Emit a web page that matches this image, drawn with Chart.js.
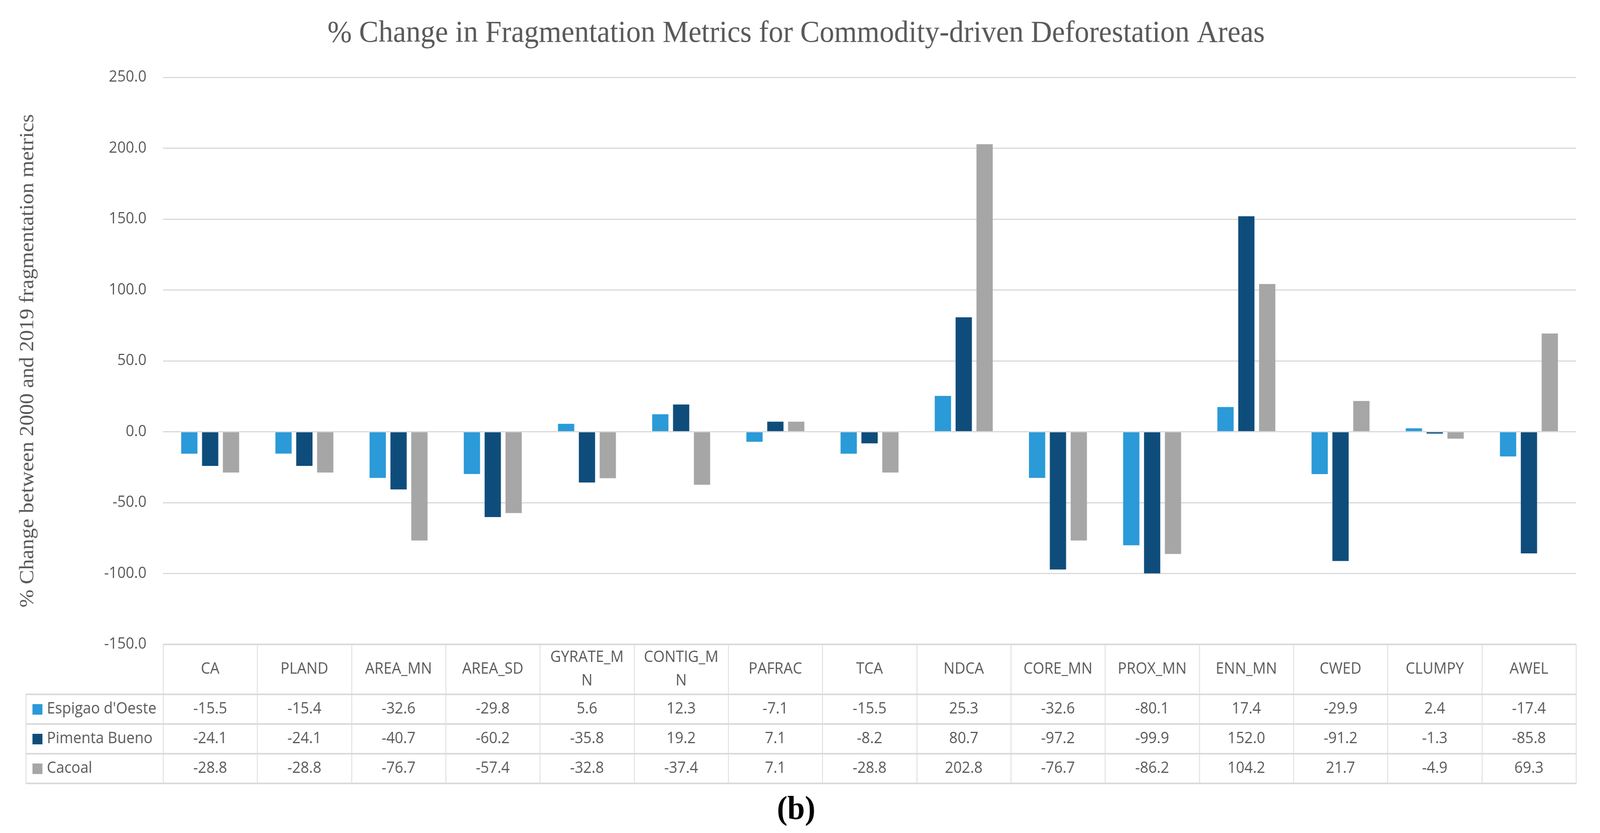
<!DOCTYPE html>
<html>
<head>
<meta charset="utf-8">
<script src="https://cdn.jsdelivr.net/npm/chart.js@4.4.1/dist/chart.umd.min.js"></script>
<style>
  html, body { margin: 0; padding: 0; background: #ffffff; overflow: hidden; }
  canvas#c { display: block; width: 100vw !important; height: 100vh !important; }
</style>
</head>
<body>
<canvas id="c" width="4337" height="2133"></canvas>
<script>
// ---- data ----
const categories = ['CA','PLAND','AREA_MN','AREA_SD','GYRATE_MN','CONTIG_MN','PAFRAC','TCA','NDCA','CORE_MN','PROX_MN','ENN_MN','CWED','CLUMPY','AWEL'];
const headerLabels = [['CA'],['PLAND'],['AREA_MN'],['AREA_SD'],['GYRATE_M','N'],['CONTIG_M','N'],['PAFRAC'],['TCA'],['NDCA'],['CORE_MN'],['PROX_MN'],['ENN_MN'],['CWED'],['CLUMPY'],['AWEL']];
const seriesNames = ["Espigao d'Oeste", 'Pimenta Bueno', 'Cacoal'];
const espigao = [-15.5, -15.4, -32.6, -29.8, 5.6, 12.3, -7.1, -15.5, 25.3, -32.6, -80.1, 17.4, -29.9, 2.4, -17.4];
const pimenta = [-24.1, -24.1, -40.7, -60.2, -35.8, 19.2, 7.1, -8.2, 80.7, -97.2, -99.9, 152.0, -91.2, -1.3, -85.8];
const cacoal  = [-28.8, -28.8, -76.7, -57.4, -32.8, -37.4, 7.1, -28.8, 202.8, -76.7, -86.2, 104.2, 21.7, -4.9, 69.3];
const yMin = -150, yMax = 250, yStep = 50;
const titleText = '% Change in Fragmentation Metrics for Commodity-driven Deforestation Areas';
const yTitleText = '% Change between 2000 and 2019 fragmentation metrics';
const captionText = '(b)';

// ---- styles ----
const colors = ['#2B9AD8', '#0E4D7B', '#A6A6A6'];
const gridColor = '#D9D9D9';
const textColor = '#595959';
const sansFont = "'Open Sans', 'Noto Sans', sans-serif";
const serifFont = "'Liberation Serif', 'DejaVu Serif', serif";

const seriesValues = [espigao, pimenta, cacoal];

const bgPlugin = {
  id: 'bg',
  beforeDraw(chart) {
    const ctx = chart.ctx;
    ctx.save();
    ctx.fillStyle = '#ffffff';
    ctx.fillRect(0, 0, chart.width, chart.height);
    ctx.restore();
  }
};

const tablePlugin = {
  id: 'dataTable',
  afterDraw(chart) {
    const ctx = chart.ctx;
    const area = chart.chartArea;
    const xs = chart.scales.x;
    const n = categories.length;
    const colW = (area.right - area.left) / n;
    const top = area.bottom;
    const headerH = 128;
    const rowH = 76;
    const legendLeft = 70;
    const hdrBottom = top + headerH;
    const bottom = hdrBottom + rowH * seriesNames.length;

    ctx.save();
    // chart title
    ctx.fillStyle = textColor;
    ctx.font = '79px ' + serifFont;
    ctx.textAlign = 'center';
    ctx.textBaseline = 'alphabetic';
    ctx.fillText(titleText, 2158, 107);

    // table vertical lines
    ctx.strokeStyle = gridColor;
    ctx.lineWidth = 2;
    for (let i = 0; i <= n; i++) {
      const x = Math.round(area.left + i * colW) + 0.5;
      ctx.beginPath();
      ctx.moveTo(x, top);
      ctx.lineTo(x, bottom);
      ctx.stroke();
    }
    ctx.beginPath();
    ctx.moveTo(legendLeft + 0.5, hdrBottom);
    ctx.lineTo(legendLeft + 0.5, bottom);
    ctx.stroke();

    // table horizontal lines
    ctx.lineWidth = 4;
    ctx.beginPath();
    ctx.moveTo(area.left, top);
    ctx.lineTo(area.right, top);
    ctx.stroke();
    for (let r = 0; r <= seriesNames.length; r++) {
      const y = hdrBottom + r * rowH;
      ctx.beginPath();
      ctx.moveTo(legendLeft, y);
      ctx.lineTo(area.right, y);
      ctx.stroke();
    }

    // header (category) labels
    ctx.fillStyle = textColor;
    ctx.font = '40px ' + sansFont;
    ctx.textAlign = 'center';
    ctx.textBaseline = 'middle';
    const hdrMid = top + headerH / 2;
    for (let i = 0; i < n; i++) {
      const cx = xs.getPixelForValue(i);
      const lines = headerLabels[i];
      const lh = 60;
      const y0 = hdrMid - (lines.length - 1) * lh / 2;
      lines.forEach((t, k) => ctx.fillText(t, cx, y0 + k * lh));
    }

    // legend keys + values
    for (let r = 0; r < seriesNames.length; r++) {
      const cy = hdrBottom + r * rowH + rowH / 2;
      ctx.fillStyle = colors[r];
      ctx.fillRect(88, Math.round(cy - 13), 27, 27);
      ctx.fillStyle = textColor;
      ctx.textAlign = 'left';
      ctx.fillText(seriesNames[r], 127, cy);
      ctx.textAlign = 'center';
      for (let i = 0; i < n; i++) {
        ctx.fillText(seriesValues[r][i].toFixed(1), xs.getPixelForValue(i), cy);
      }
    }

    // caption
    ctx.fillStyle = '#000000';
    ctx.font = 'bold 85px ' + serifFont;
    ctx.textAlign = 'center';
    ctx.textBaseline = 'alphabetic';
    ctx.fillText(captionText, 2158, 2097);
    ctx.restore();
  }
};

const chart = new Chart(document.getElementById('c'), {
  type: 'bar',
  data: {
    labels: categories,
    datasets: seriesNames.map((name, i) => ({
      label: name,
      data: seriesValues[i],
      backgroundColor: colors[i],
      borderWidth: 0,
      categoryPercentage: 0.664,
      barPercentage: 0.78
    }))
  },
  options: {
    responsive: false,
    animation: false,
    devicePixelRatio: 1,
    layout: { padding: { top: 198, right: 65, bottom: 483, left: 0 } },
    plugins: {
      legend: { display: false },
      title: { display: false },
      tooltip: { enabled: false }
    },
    scales: {
      x: { display: false },
      y: {
        min: yMin,
        max: yMax,
        border: { display: false },
        grid: { color: gridColor, lineWidth: 3, drawTicks: false },
        ticks: {
          stepSize: yStep,
          padding: 45,
          color: textColor,
          font: { family: sansFont, size: 40 },
          callback: (v) => Number(v).toFixed(1)
        },
        title: {
          display: true,
          text: yTitleText,
          color: textColor,
          font: { family: serifFont, size: 55 },
          padding: { top: 43, bottom: 0 }
        },
        afterFit: (s) => { s.width = 442; }
      }
    }
  },
  plugins: [bgPlugin, tablePlugin]
});
</script>
</body>
</html>
